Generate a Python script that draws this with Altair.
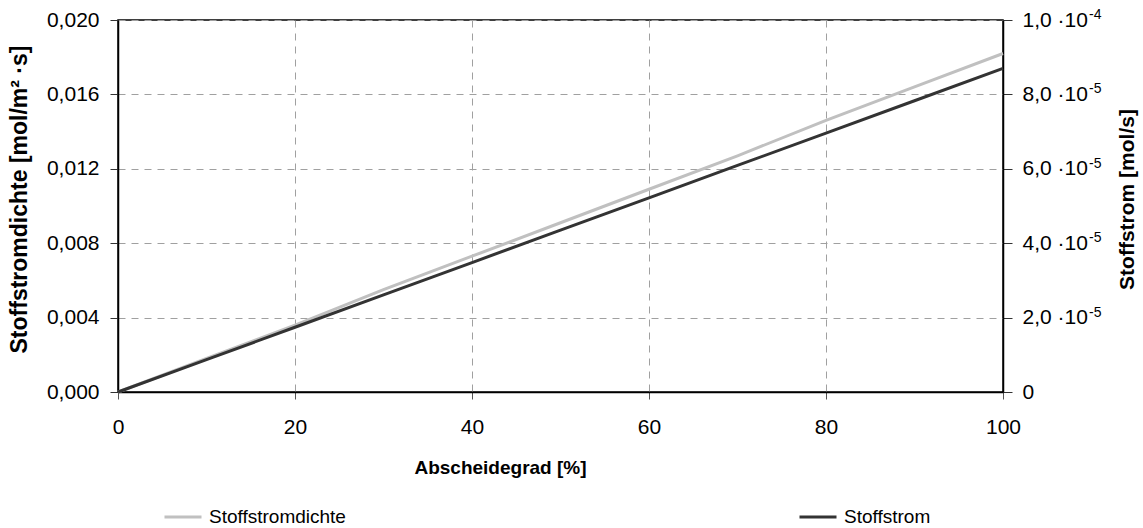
import altair as alt
import pandas as pd

# Abscheidegrad in %
abscheidegrad = [0, 10, 20, 30, 40, 50, 60, 70, 80, 90, 100]
# Stoffstromdichte in mol/(m²·s), linke Achse
stoffstromdichte = [0.0, 0.0018, 0.0036, 0.0055, 0.0073, 0.0091, 0.0109, 0.0127, 0.0146, 0.0164, 0.0182]
# Stoffstrom in mol/s, rechte Achse
stoffstrom = [0.0, 0.87e-5, 1.74e-5, 2.61e-5, 3.48e-5, 4.35e-5, 5.22e-5, 6.09e-5, 6.96e-5, 7.83e-5, 8.70e-5]

serien = ["Stoffstromdichte", "Stoffstrom"]
farben = ["#c0c0c0", "#333333"]

x_ticks = [0, 20, 40, 60, 80, 100]
links_ticks = [0.0, 0.004, 0.008, 0.012, 0.016, 0.020]
rechts_ticks = [0.0, 2e-5, 4e-5, 6e-5, 8e-5, 1e-4]
# Hochgestellte Exponenten der rechten Achsenbeschriftung (ohne die Null)
rechts_exponenten = ["-5", "-5", "-5", "-5", "-4"]

df_dichte = pd.DataFrame({"grad": abscheidegrad, "wert": stoffstromdichte, "serie": serien[0]})
df_strom = pd.DataFrame({"grad": abscheidegrad, "wert": stoffstrom, "serie": serien[1]})
df_exp = pd.DataFrame({"wert": rechts_ticks[1:], "exp": rechts_exponenten})

FONT = "Liberation Sans"
GRID = "#a0a0a0"
PLOT_W, PLOT_H = 885, 372

farbe = alt.Color(
    "serie:N",
    scale=alt.Scale(domain=serien, range=farben),
    legend=alt.Legend(
        title=None,
        orient="none",
        direction="horizontal",
        columns=2,
        legendX=45,
        legendY=477,
        symbolType="stroke",
        symbolSize=1369,
        symbolStrokeWidth=3,
        labelFont=FONT,
        labelFontSize=19,
        labelColor="black",
        labelOffset=6,
        columnPadding=447,
    ),
)

x_enc = alt.X(
    "grad:Q",
    scale=alt.Scale(domain=[0, 100], nice=False),
    axis=alt.Axis(
        values=x_ticks,
        title="Abscheidegrad [%]",
        format="d",
        labelFlush=False,
        grid=True,
        gridColor=GRID,
        gridDash=[7, 6],
        gridWidth=1,
        domainColor="black",
        domainWidth=1.5,
        tickColor="#555555",
        tickSize=7,
        labelPadding=17,
        labelFontSize=21,
        labelFont=FONT,
        labelColor="black",
        titleFont=FONT,
        titleFontSize=19,
        titleFontWeight="bold",
        titleColor="black",
        titleX=382,
        titleY=75,
        titleBaseline="middle",
    ),
)

links = alt.Chart(df_dichte).mark_line(strokeWidth=3).encode(
    x=x_enc,
    y=alt.Y(
        "wert:Q",
        scale=alt.Scale(domain=[0, 0.02], nice=False),
        axis=alt.Axis(
            orient="left",
            values=links_ticks,
            labelExpr="replace(format(datum.value, '.3f'), '.', ',')",
            labelFlush=False,
            title="Stoffstromdichte [mol/m² ·s]",
            grid=True,
            gridColor=GRID,
            gridDash=[7, 6],
            gridWidth=1,
            domainColor="black",
            domainWidth=1.5,
            tickColor="#333333",
            tickSize=8,
            labelPadding=11,
            labelFontSize=21,
            labelFont=FONT,
            labelColor="black",
            titleFont=FONT,
            titleFontSize=23,
            titleFontWeight="bold",
            titleColor="black",
            titleAngle=270,
            titleX=-99,
            titleY=179,
            titleBaseline="middle",
        ),
    ),
    color=farbe,
)

y_rechts = alt.Y(
    "wert:Q",
    scale=alt.Scale(domain=[0, 1e-4], nice=False),
    axis=alt.Axis(
        orient="right",
        values=rechts_ticks,
        labelExpr="datum.value == 0 ? '0' : replace(format(datum.value * (datum.value > 0.000099 ? 10000 : 100000), '.1f'), '.', ',') + ' ·10'",
        labelFlush=False,
        title="Stoffstrom [mol/s]",
        grid=False,
        domainColor="black",
        domainWidth=1.5,
        tickColor="#333333",
        tickSize=9,
        labelPadding=10,
        labelFontSize=21,
        labelFont=FONT,
        labelColor="black",
        titleFont=FONT,
        titleFontSize=21,
        titleFontWeight="bold",
        titleColor="black",
        titleAngle=270,
        titleX=124,
        titleY=179,
        titleBaseline="middle",
    ),
)

rechts_linie = alt.Chart(df_strom).mark_line(strokeWidth=3).encode(
    x=x_enc,
    y=y_rechts,
    color=farbe,
)

# Exponenten hinter "·10" an den Teilstrichen der rechten Achse
rechts_exp = alt.Chart(df_exp).mark_text(
    align="left", baseline="middle", dy=-5, fontSize=14, font=FONT, color="black"
).encode(
    x=alt.value(PLOT_W + 86),
    y=y_rechts,
    text="exp:N",
)

rechts = alt.layer(rechts_linie, rechts_exp)

chart = (
    alt.layer(links, rechts)
    .resolve_scale(y="independent")
    .properties(
        width=PLOT_W,
        height=PLOT_H,
        padding={"left": 118, "top": 20, "right": 140, "bottom": 136},
        autosize=alt.AutoSizeParams(type="none"),
        background="white",
    )
    .configure_view(stroke="black", strokeWidth=1.5)
)

chart.save("out.html", embed_options={"renderer": "svg", "actions": False})
